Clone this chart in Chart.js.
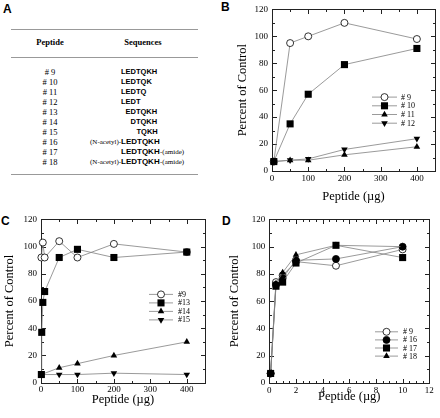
<!DOCTYPE html>
<html>
<head>
<meta charset="utf-8">
<script src="https://cdn.jsdelivr.net/npm/chart.js@4.4.1/dist/chart.umd.min.js"></script>
<style>
  body { margin: 0; background: #fff; }
  #wrap { position: relative; width: 440px; height: 418px; overflow: hidden; background: #fff; }
  .panel { position: absolute; }
  .letter { position: absolute; font: bold 12px "Liberation Sans", Arial, sans-serif; color: #000; }
  .rule { position: absolute; left: 11px; width: 187px; border-top: 1.5px solid #999; }
  .t { position: absolute; white-space: nowrap; color: #000; }
</style>
</head>
<body>
<div id="wrap">
  <div class="letter" style="left:3px;top:2px">A</div>
  <div class="letter" style="left:221px;top:0px">B</div>
  <div class="letter" style="left:1px;top:214px">C</div>
  <div class="letter" style="left:222px;top:214px">D</div>
  <div id="tableA"></div>
  <div class="panel" style="left:220px;top:0;width:220px;height:210px"><canvas id="chartB"></canvas></div>
  <div class="panel" style="left:0;top:210px;width:220px;height:208px"><canvas id="chartC"></canvas></div>
  <div class="panel" style="left:220px;top:210px;width:220px;height:208px"><canvas id="chartD"></canvas></div>
</div>
<script>
// Panel A - peptide table
const peptideIds = ['# 9', '# 10', '# 11', '# 12', '# 13', '# 14', '# 15', '# 16', '# 17', '# 18'];
const seqPrefix = ['', '', '', '', '', '', '', '(N-acetyl)-', '', '(N-acetyl)-'];
const seqCore = ['LEDTQKH', 'LEDTQK', 'LEDTQ', 'LEDT', 'EDTQKH', 'DTQKH', 'TQKH', 'LEDTQKH', 'LEDTQKH', 'LEDTQKH'];
const seqSuffix = ['', '', '', '', '', '', '', '', '-(amide)', '-(amide)'];

// Panel B
const bDose = [5, 50, 100, 200, 400];
const b9 = [7, 95, 100, 110, 98];
const b10 = [7, 35, 57, 79, 91];
const b11 = [7, 8, 8, 12, 18];
const b12 = [7, 8, 9, 16, 24];

// Panel C
const c9Dose = [1, 5, 10, 50, 100, 200, 400];
const c9 = [92, 103, 92, 104, 92, 102, 96];
const c13Dose = [1, 2, 5, 10, 50, 100, 200, 400];
const c13 = [6, 37, 59, 67, 92, 98, 92, 96];
const c14Dose = [1, 50, 100, 200, 400];
const c14 = [6, 11, 14, 20, 30];
const c15Dose = [1, 50, 100, 200, 400];
const c15 = [6, 6, 6, 7, 6];

// Panel D
const dDose = [0.1, 0.5, 1, 2, 5, 10];
const d9 = [7, 74, 79, 89, 86, 98];
const d16 = [7, 72, 77, 90, 91, 100];
const d17 = [7, 71, 74, 88, 101, 92];
const d18 = [7, 73, 81, 94, 101, 100];

// tick labels
const doseTicks = [0, 100, 200, 300, 400];
const doseTicksD = [0, 2, 4, 6, 8, 10, 12];
const pctTicks = [0, 20, 40, 60, 80, 100, 120];

const SERIF = '"Liberation Serif", "Times New Roman", serif';
const SANS = '"Liberation Sans", Arial, sans-serif';

// ---- table A ----
const tableA = document.getElementById('tableA');
function addText(txt, css) {
  const d = document.createElement('div');
  d.className = 't';
  d.textContent = txt;
  d.style.cssText += css;
  tableA.appendChild(d);
  return d;
}
[29, 57, 174].forEach(y => {
  const r = document.createElement('div');
  r.className = 'rule';
  r.style.top = y + 'px';
  tableA.appendChild(r);
});
addText('Peptide', `left:20px;width:60px;text-align:center;top:37px;line-height:11px;font:bold 8.5px ${SERIF}`);
addText('Sequences', `left:113px;width:60px;text-align:center;top:37px;line-height:11px;font:bold 8.5px ${SERIF}`);

peptideIds.forEach((id, i) => {
  const top = 67.3 + i * 10;
  addText(id, `left:30px;width:40px;text-align:center;top:${top}px;line-height:10px;font:8.5px ${SERIF}`);
  const modified = seqPrefix[i] || seqSuffix[i];
  const core = addText(seqCore[i], `top:${top}px;line-height:10px;font:bold ${modified ? 8 : 7.5}px ${SANS}`);
  let left = seqCore[i][0] === 'L' ? 121 : 157.5 - core.offsetWidth;
  core.style.left = left + 'px';
  if (seqPrefix[i]) {
    const p = addText(seqPrefix[i], `top:${top + 0.5}px;line-height:10px;font:7px ${SERIF}`);
    p.style.left = (left - p.offsetWidth) + 'px';
  }
  if (seqSuffix[i]) {
    const s = addText(seqSuffix[i], `top:${top + 0.5}px;line-height:10px;font:7px ${SERIF}`);
    s.style.left = (left + core.offsetWidth) + 'px';
  }
});

// ---- plugins ----
// box frame with inward ticks on all four sides
const frameTicks = {
  id: 'frameTicks',
  beforeDatasetsDraw(chart, args, o) {
    const { ctx, chartArea: a, scales: { x, y } } = chart;
    ctx.save();
    ctx.strokeStyle = '#222';
    ctx.lineWidth = 1;
    const L = Math.round(a.left) + 0.5, R = Math.round(a.right) + 0.5;
    const T = Math.round(a.top) + 0.5, B = Math.round(a.bottom) + 0.5;
    ctx.strokeRect(L, T, R - L, B - T);
    ctx.beginPath();
    const xt = (v, len) => {
      const px = Math.round(x.getPixelForValue(v)) + 0.5;
      ctx.moveTo(px, B); ctx.lineTo(px, B - len);
      ctx.moveTo(px, T); ctx.lineTo(px, T + len);
    };
    const yt = (v, len) => {
      const py = Math.round(y.getPixelForValue(v)) + 0.5;
      ctx.moveTo(L, py); ctx.lineTo(L + len, py);
      ctx.moveTo(R, py); ctx.lineTo(R - len, py);
    };
    for (let v = x.min; v <= x.max + 1e-9; v += o.xMinor) xt(v, 2.5);
    for (let v = y.min; v <= y.max + 1e-9; v += o.yMinor) yt(v, 2.5);
    x.ticks.forEach(t => xt(t.value, 4.5));
    y.ticks.forEach(t => yt(t.value, 4.5));
    ctx.stroke();
    ctx.restore();
  }
};

// legend drawn inside the plot area
const insideLegend = {
  id: 'insideLegend',
  afterDatasetsDraw(chart, args, o) {
    const { ctx, chartArea: a } = chart;
    ctx.save();
    ctx.font = `8px ${SERIF}`;
    ctx.textBaseline = 'middle';
    o.order.forEach((di, i) => {
      const ds = chart.data.datasets[di];
      const y = a.top + o.y0 + i * o.dy;
      const x0 = a.left + o.x0;
      ctx.strokeStyle = '#808080';
      ctx.lineWidth = 0.8;
      ctx.beginPath();
      ctx.moveTo(x0, y); ctx.lineTo(x0 + o.len, y);
      ctx.stroke();
      ctx.fillStyle = ds.pointBackgroundColor;
      ctx.strokeStyle = ds.pointBorderColor;
      ctx.lineWidth = ds.pointBorderWidth;
      Chart.helpers.drawPoint(ctx, {
        pointStyle: ds.pointStyle, radius: ds.pointRadius,
        rotation: ds.pointRotation || 0, borderWidth: ds.pointBorderWidth
      }, x0 + o.len / 2, y);
      ctx.fillStyle = '#000';
      ctx.fillText(ds.label, x0 + o.len + o.gap, y + 0.5);
    });
    ctx.restore();
  }
};
Chart.register(frameTicks, insideLegend);

const MARK = {
  open: { shape: 'circle', r: 3.5, fill: '#fff', bw: 0.8, order: 3 },
  dot: { shape: 'circle', r: 3.5, fill: '#000', bw: 0.8, order: 2 },
  square: { shape: 'rect', r: 5, fill: '#000', bw: 0, order: 0 },
  up: { shape: 'triangle', r: 3.8, fill: '#000', bw: 0, order: 1 },
  down: { shape: 'triangle', r: 3.8, fill: '#000', bw: 0, rot: 180, order: 1 }
};

function series(label, xs, ys, m) {
  return {
    label,
    data: xs.map((x, i) => ({ x, y: ys[i] })),
    borderColor: '#808080',
    borderWidth: 0.8,
    pointStyle: m.shape,
    pointRadius: m.r,
    pointHoverRadius: m.r,
    pointRotation: m.rot || 0,
    pointBackgroundColor: m.fill,
    pointBorderColor: '#000',
    pointBorderWidth: m.bw,
    tension: 0,
    fill: false,
    clip: false,
    order: m.order
  };
}

function panelOptions(p) {
  const tickFont = { family: SERIF, size: 9 };
  const titleFont = { family: SERIF, size: 12.5 };
  return {
    responsive: true,
    maintainAspectRatio: false,
    animation: false,
    events: [],
    layout: { padding: p.pad },
    plugins: {
      legend: { display: false },
      tooltip: { enabled: false },
      frameTicks: { xMinor: p.xMinor, yMinor: 10 },
      insideLegend: p.legend
    },
    scales: {
      x: {
        type: 'linear', min: 0, max: p.xMax,
        afterBuildTicks: s => { s.ticks = p.xTicks.map(v => ({ value: v })); },
        afterFit: s => { s.height = p.xH; },
        grid: { display: false, drawTicks: false }, border: { display: false },
        ticks: { color: '#000', font: tickFont, padding: 2, maxRotation: 0, autoSkip: false },
        title: { display: true, text: 'Peptide (µg)', color: '#000', font: titleFont, padding: { top: 0, bottom: p.xTitlePad } }
      },
      y: {
        type: 'linear', min: 0, max: 120,
        afterBuildTicks: s => { s.ticks = pctTicks.map(v => ({ value: v })); },
        afterFit: s => { s.width = p.yW; },
        grid: { display: false, drawTicks: false }, border: { display: false },
        ticks: { color: '#000', font: tickFont, padding: 4 },
        title: { display: true, text: 'Percent of Control', color: '#000', font: titleFont, padding: { top: p.yTitlePad, bottom: 0 } }
      }
    }
  };
}

new Chart(document.getElementById('chartB'), {
  type: 'line',
  data: {
    datasets: [
      series('# 9', bDose, b9, MARK.open),
      series('# 10', bDose, b10, MARK.square),
      series('# 11', bDose, b11, MARK.up),
      series('# 12', bDose, b12, MARK.down)
    ]
  },
  options: panelOptions({
    pad: { left: 0, top: 7, right: 2.5, bottom: 0 }, yW: 52, xH: 39,
    xMax: 450, xTicks: doseTicks, xMinor: 50, xTitlePad: 5.5, yTitlePad: 15.5,
    legend: { order: [0, 1, 2, 3], x0: 100, len: 25, gap: 4, y0: 87.7, dy: 8.7 }
  })
});

new Chart(document.getElementById('chartC'), {
  type: 'line',
  data: {
    datasets: [
      series('#9', c9Dose, c9, MARK.open),
      series('#13', c13Dose, c13, MARK.square),
      series('#14', c14Dose, c14, MARK.up),
      series('#15', c15Dose, c15, MARK.down)
    ]
  },
  options: panelOptions({
    pad: { left: 0, top: 9.3, right: 15, bottom: 0 }, yW: 41, xH: 35.3,
    xMax: 450, xTicks: doseTicks, xMinor: 50, xTitlePad: 10.5, yTitlePad: 2.5,
    legend: { order: [0, 1, 2, 3], x0: 108, len: 24, gap: 5, y0: 75, dy: 8.5 }
  })
});

new Chart(document.getElementById('chartD'), {
  type: 'line',
  data: {
    datasets: [
      series('# 9', dDose, d9, MARK.open),
      series('# 16', dDose, d16, MARK.dot),
      series('# 17', dDose, d17, MARK.square),
      series('# 18', dDose, d18, MARK.up)
    ]
  },
  options: panelOptions({
    pad: { left: 0, top: 9.3, right: 10.7, bottom: 0 }, yW: 49.3, xH: 35,
    xMax: 12, xTicks: doseTicksD, xMinor: 0.5, xTitlePad: 14, yTitlePad: 7.5,
    legend: { order: [0, 1, 2, 3], x0: 105.7, len: 23, gap: 5, y0: 112.4, dy: 8.1 }
  })
});
</script>
</body>
</html>
